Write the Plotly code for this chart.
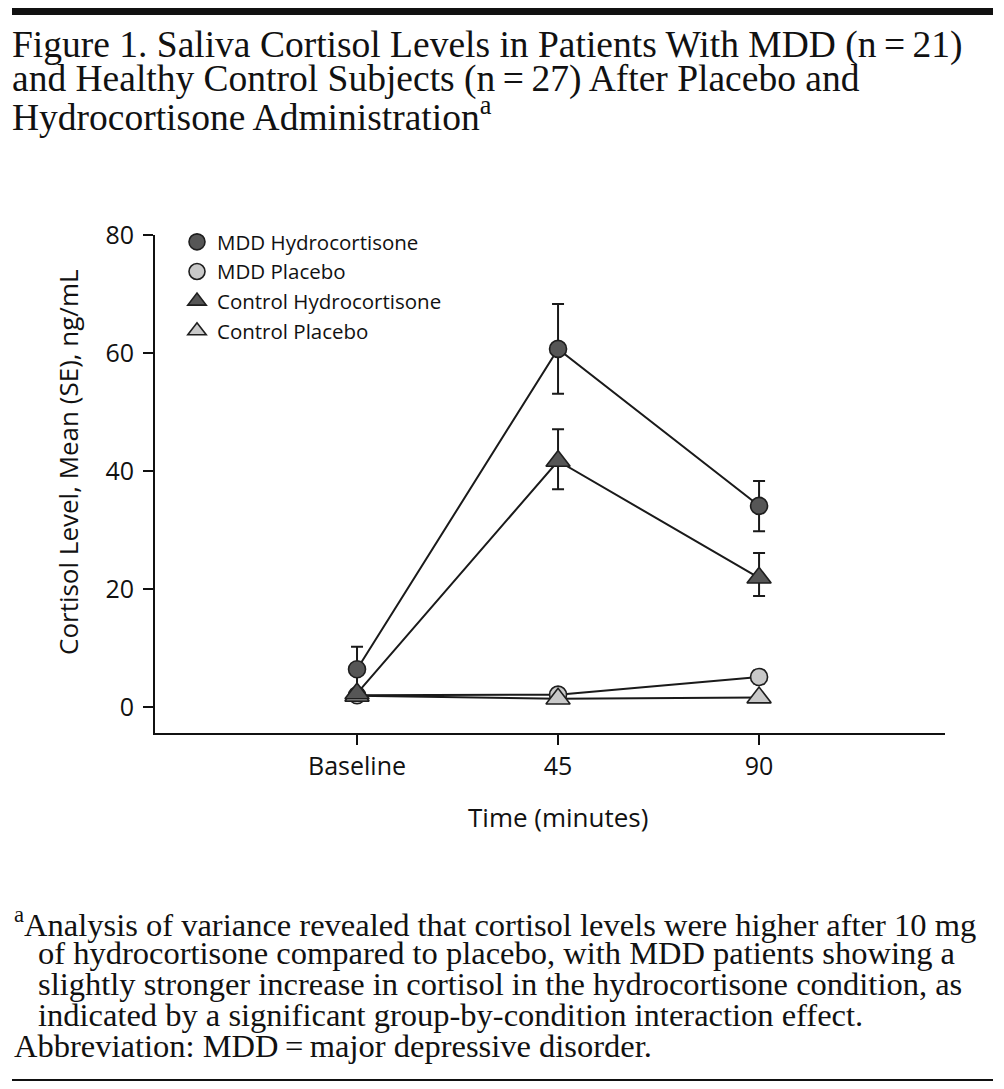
import plotly.graph_objects as go

# ---------------- data ----------------
categories = ["Baseline", "45", "90"]

mdd_hc = [6.4, 60.7, 34.1]
mdd_hc_err_plus = [3.8, 7.6, 4.2]
mdd_hc_err_minus = [3.8, 7.6, 4.3]

mdd_pl = [2.0, 2.1, 5.1]
mdd_pl_err = [0.4, 1.0, 1.1]

ctl_hc = [2.3, 41.7, 21.9]
ctl_hc_err_plus = [0.5, 5.4, 4.2]
ctl_hc_err_minus = [0.5, 4.8, 3.1]

ctl_pl = [1.9, 1.4, 1.6]
ctl_pl_err = [0.3, 0.4, 0.4]

series_names = ["MDD Hydrocortisone", "MDD Placebo", "Control Hydrocortisone", "Control Placebo"]

y_ticks = [0, 20, 40, 60, 80]

title_lines = [
    "Figure 1. Saliva Cortisol Levels in Patients With MDD (n\u2009=\u200921)",
    "and Healthy Control Subjects (n\u2009=\u200927) After Placebo and",
    "Hydrocortisone Administration<sup>a</sup>",
]
foot_lines = [
    "<sup>a</sup>Analysis of variance revealed that cortisol levels were higher after 10 mg",
    "of hydrocortisone compared to placebo, with MDD patients showing a",
    "slightly stronger increase in cortisol in the hydrocortisone condition, as",
    "indicated by a significant group-by-condition interaction effect.",
    "Abbreviation: MDD\u2009=\u2009major depressive disorder.",
]

# ---------------- layout geometry ----------------
OFF = 8  # page body margin
W, H = 1004 - 2 * OFF, 1089 - 2 * OFF
L, R, T, B = 155 - OFF, 945 - OFF, 235 - OFF, 733 - OFF  # plot area in figure pixels


def px(xp):
    return (xp - OFF - L) / (R - L)


def py(yp):
    return (B - (yp - OFF)) / (B - T)


DARK = "#565656"
LIGHT = "#c9c9c9"
EDGE = "#1e1e1e"
SANS = "Open Sans, Lato, sans-serif"
SERIF = "Liberation Serif, DejaVu Serif, serif"

x_idx = [0, 1, 2]

fig = go.Figure()


def add_series(name, y, ep, em, symbol, color, size):
    fig.add_trace(go.Scatter(
        x=x_idx, y=y, mode="lines+markers", name=name, showlegend=False,
        line=dict(color="#1a1a1a", width=2),
        marker=dict(symbol=symbol, size=size, color=color, line=dict(color=EDGE, width=1.6)),
        error_y=dict(type="data", symmetric=False, array=ep, arrayminus=em,
                     color="#1a1a1a", thickness=2, width=6),
    ))


add_series(series_names[0], mdd_hc, mdd_hc_err_plus, mdd_hc_err_minus, "circle", DARK, 17)
add_series(series_names[1], mdd_pl, mdd_pl_err, mdd_pl_err, "circle", LIGHT, 17)
add_series(series_names[3], ctl_pl, ctl_pl_err, ctl_pl_err, "triangle-up", LIGHT, 21)
add_series(series_names[2], ctl_hc, ctl_hc_err_plus, ctl_hc_err_minus, "triangle-up", DARK, 21)

# legend-only entries (markers only, as in the reference)
legend_specs = [
    (series_names[0], "circle", DARK, 17),
    (series_names[1], "circle", LIGHT, 17),
    (series_names[2], "triangle-up", DARK, 18),
    (series_names[3], "triangle-up", LIGHT, 18),
]
for name, sym, col, sz in legend_specs:
    fig.add_trace(go.Scatter(
        x=[None], y=[None], mode="markers", name=name, showlegend=True,
        marker=dict(symbol=sym, size=sz, color=col, line=dict(color=EDGE, width=1.6)),
    ))

annotations = []
# title
for i, t in enumerate(title_lines):
    annotations.append(dict(
        text=t, xref="paper", yref="paper", x=px(10), y=py(45 + i * 34.5),
        xanchor="left", yanchor="middle", showarrow=False,
        font=dict(family=SERIF, size=37.5, color="#111111"),
    ))
# footnotes
foot_x = [12, 36, 36, 36, 12]
for i, t in enumerate(foot_lines):
    annotations.append(dict(
        text=t, xref="paper", yref="paper", x=px(foot_x[i]), y=py(922 + i * 31),
        xanchor="left", yanchor="middle", showarrow=False,
        font=dict(family=SERIF, size=32.5, color="#111111"),
    ))
# axis titles
annotations.append(dict(
    text="Cortisol Level, Mean (SE), ng/mL", xref="paper", yref="paper",
    x=px(68), y=py(462), textangle=-90, xanchor="center", yanchor="middle",
    showarrow=False, font=dict(family=SANS, size=26, color="#111111"),
))
annotations.append(dict(
    text="Time (minutes)", xref="paper", yref="paper",
    x=px(558), y=py(817), xanchor="center", yanchor="middle",
    showarrow=False, font=dict(family=SANS, size=26, color="#111111"),
))

shapes = [
    dict(type="rect", xref="paper", yref="paper", x0=px(12), x1=px(993), y0=py(3), y1=py(15),
         fillcolor="#111111", line=dict(width=0)),
    dict(type="line", xref="paper", yref="paper", x0=px(12), x1=px(993), y0=py(1080), y1=py(1080),
         line=dict(color="#111111", width=2)),
]

fig.update_layout(
    width=W, height=H,
    margin=dict(l=L, r=W - R, t=T, b=H - B, pad=0),
    paper_bgcolor="white", plot_bgcolor="white",
    showlegend=True,
    legend=dict(x=px(177), y=py(222), xanchor="left", yanchor="top",
                font=dict(family=SANS, size=20.5, color="#111111"),
                bgcolor="rgba(0,0,0,0)", itemsizing="trace", tracegroupgap=0),
    annotations=annotations,
    shapes=shapes,
    xaxis=dict(
        tickmode="array", tickvals=x_idx, ticktext=categories,
        range=[-1.005, 2.925], showgrid=False, zeroline=False,
        showline=True, linecolor="#111111", linewidth=2,
        ticks="outside", ticklen=10, tickwidth=2, tickcolor="#111111",
        tickfont=dict(family=SANS, size=25, color="#111111"),
    ),
    yaxis=dict(
        tickmode="array", tickvals=y_ticks,
        range=[-4.4, 80], showgrid=False, zeroline=False,
        showline=True, linecolor="#111111", linewidth=2,
        ticks="outside", ticklen=10, tickwidth=2, tickcolor="#111111",
        ticklabelstandoff=4,
        tickfont=dict(family=SANS, size=25, color="#111111"),
    ),
)

fig.write_html("out.html")
